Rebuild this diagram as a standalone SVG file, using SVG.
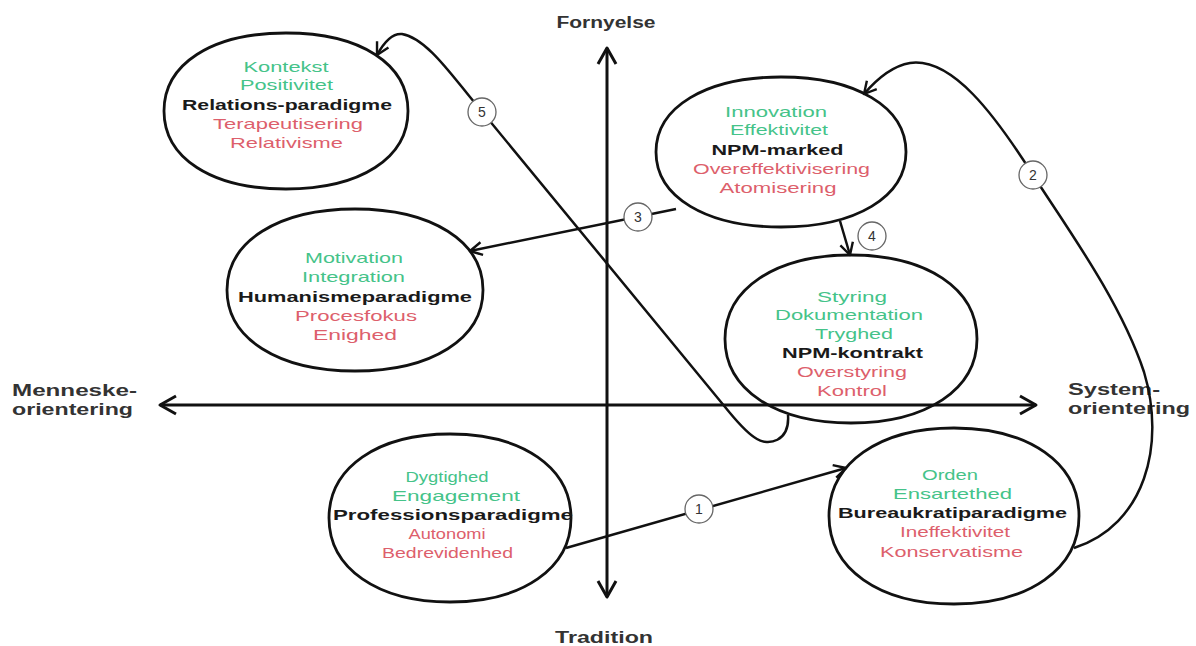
<svg xmlns="http://www.w3.org/2000/svg" width="1196" height="646" viewBox="0 0 1196 646">
  <defs>
    <style>
      .shape { fill: none; stroke: #111; stroke-width: 2.8; }
      .link { fill: none; stroke: #111; stroke-width: 2.5; }
      .axis { fill: none; stroke: #111; stroke-width: 3; }
      .t { font-family: "Liberation Sans", Arial, sans-serif; font-size: 15px; text-anchor: middle; }
      .pos { fill: #45c389; }
      .neg { fill: #dd5f6c; }
      .name { fill: #1a1a1a; font-weight: bold; }
      .axlabel { font-family: "Liberation Sans", Arial, sans-serif; font-size: 16px; font-weight: bold; fill: #333; }
      .badge circle { fill: #fff; stroke: #666; stroke-width: 1.3; }
      .badge text { font-family: "Liberation Sans", Arial, sans-serif; font-size: 14px; fill: #333; text-anchor: middle; }
    </style>
    <marker id="arrow" viewBox="0 0 16 16" refX="14" refY="8" markerWidth="16" markerHeight="16" markerUnits="userSpaceOnUse" orient="auto-start-reverse">
      <path d="M2,1.5 L14,8 L2,14.5" fill="none" stroke="#111" stroke-width="2.4" stroke-linejoin="round"/>
    </marker>
    <marker id="axisArrow" viewBox="0 0 22 22" refX="19" refY="11" markerWidth="22" markerHeight="22" markerUnits="userSpaceOnUse" orient="auto-start-reverse">
      <path d="M3,2 L19,11 L3,20" fill="none" stroke="#111" stroke-width="3" stroke-linejoin="round"/>
    </marker>
  </defs>

  <rect width="1196" height="646" fill="#fff"/>

  <!-- axes -->
  <g id="axes">
    <line class="axis" x1="607" y1="597" x2="607" y2="48" marker-start="url(#axisArrow)" marker-end="url(#axisArrow)"/>
    <line class="axis" x1="160" y1="405" x2="1036" y2="405" marker-start="url(#axisArrow)" marker-end="url(#axisArrow)"/>
    <text class="axlabel" x="606" y="28" text-anchor="middle" textLength="99" lengthAdjust="spacingAndGlyphs">Fornyelse</text>
    <text class="axlabel" x="604" y="643" text-anchor="middle" textLength="98" lengthAdjust="spacingAndGlyphs">Tradition</text>
    <text class="axlabel" x="12" y="396" textLength="125" lengthAdjust="spacingAndGlyphs">Menneske-</text>
    <text class="axlabel" x="12" y="415" textLength="121" lengthAdjust="spacingAndGlyphs">orientering</text>
    <text class="axlabel" x="1068" y="395" textLength="92" lengthAdjust="spacingAndGlyphs">System-</text>
    <text class="axlabel" x="1068" y="414" textLength="122" lengthAdjust="spacingAndGlyphs">orientering</text>
  </g>

  <!-- paradigm nodes -->
  <g id="relations">
    <path class="shape" d="M408,111 C408,157.8 361,189 286,189 C211,189 164,157.8 164,111 C164,64.2 211,33 286,33 C361,33 408,64.2 408,111Z"/>
    <text class="t pos" x="286" y="72" textLength="85" lengthAdjust="spacingAndGlyphs">Kontekst</text>
    <text class="t pos" x="286.5" y="90" textLength="93" lengthAdjust="spacingAndGlyphs">Positivitet</text>
    <text class="t name" x="287" y="110" textLength="210" lengthAdjust="spacingAndGlyphs">Relations-paradigme</text>
    <text class="t neg" x="288" y="129" textLength="150" lengthAdjust="spacingAndGlyphs">Terapeutisering</text>
    <text class="t neg" x="286.5" y="148" textLength="113" lengthAdjust="spacingAndGlyphs">Relativisme</text>
  </g>

  <g id="npm-marked">
    <path class="shape" d="M906,152 C906,197 856,227 781,227 C706,227 656,197 656,152 C656,107 706,77 781,77 C856,77 906,107 906,152Z"/>
    <text class="t pos" x="776" y="117" textLength="102" lengthAdjust="spacingAndGlyphs">Innovation</text>
    <text class="t pos" x="779" y="135" textLength="98" lengthAdjust="spacingAndGlyphs">Effektivitet</text>
    <text class="t name" x="777.5" y="155" textLength="132" lengthAdjust="spacingAndGlyphs">NPM-marked</text>
    <text class="t neg" x="781.5" y="174" textLength="177" lengthAdjust="spacingAndGlyphs">Overeffektivisering</text>
    <text class="t neg" x="778" y="193" textLength="117" lengthAdjust="spacingAndGlyphs">Atomisering</text>
  </g>

  <g id="humanisme">
    <path class="shape" d="M483,290 C483,338.6 431.8,371 355,371 C278.2,371 227,338.6 227,290 C227,241.4 278.2,209 355,209 C431.8,209 483,241.4 483,290Z"/>
    <text class="t pos" x="354" y="263" textLength="98" lengthAdjust="spacingAndGlyphs">Motivation</text>
    <text class="t pos" x="353.5" y="282" textLength="103" lengthAdjust="spacingAndGlyphs">Integration</text>
    <text class="t name" x="355" y="302" textLength="234" lengthAdjust="spacingAndGlyphs">Humanismeparadigme</text>
    <text class="t neg" x="356" y="321" textLength="122" lengthAdjust="spacingAndGlyphs">Procesfokus</text>
    <text class="t neg" x="355" y="340" textLength="84" lengthAdjust="spacingAndGlyphs">Enighed</text>
  </g>

  <g id="npm-kontrakt">
    <path class="shape" d="M977,339 C977,389.4 926.6,423 851,423 C775.4,423 725,389.4 725,339 C725,288.6 775.4,255 851,255 C926.6,255 977,288.6 977,339Z"/>
    <text class="t pos" x="852" y="302" textLength="70" lengthAdjust="spacingAndGlyphs">Styring</text>
    <text class="t pos" x="849" y="320" textLength="148" lengthAdjust="spacingAndGlyphs">Dokumentation</text>
    <text class="t pos" x="854" y="339" textLength="78" lengthAdjust="spacingAndGlyphs">Tryghed</text>
    <text class="t name" x="852.5" y="358" textLength="141" lengthAdjust="spacingAndGlyphs">NPM-kontrakt</text>
    <text class="t neg" x="852" y="377" textLength="110" lengthAdjust="spacingAndGlyphs">Overstyring</text>
    <text class="t neg" x="852" y="396" textLength="70" lengthAdjust="spacingAndGlyphs">Kontrol</text>
  </g>

  <g id="profession">
    <path class="shape" d="M571,518 C571,568.4 522.6,602 450,602 C377.4,602 329,568.4 329,518 C329,467.6 377.4,434 450,434 C522.6,434 571,467.6 571,518Z"/>
    <text class="t pos" x="447" y="482" textLength="83" lengthAdjust="spacingAndGlyphs">Dygtighed</text>
    <text class="t pos" x="456" y="501" textLength="128" lengthAdjust="spacingAndGlyphs">Engagement</text>
    <text class="t name" x="453" y="520" textLength="240" lengthAdjust="spacingAndGlyphs">Professionsparadigme</text>
    <text class="t neg" x="447" y="539" textLength="77" lengthAdjust="spacingAndGlyphs">Autonomi</text>
    <text class="t neg" x="447.5" y="558" textLength="131" lengthAdjust="spacingAndGlyphs">Bedrevidenhed</text>
  </g>

  <g id="bureaukrati">
    <path class="shape" d="M1079,516 C1079,568.8 1029,604 954,604 C879,604 829,568.8 829,516 C829,463.2 879,428 954,428 C1029,428 1079,463.2 1079,516Z"/>
    <text class="t pos" x="950" y="480" textLength="56" lengthAdjust="spacingAndGlyphs">Orden</text>
    <text class="t pos" x="952.5" y="499" textLength="119" lengthAdjust="spacingAndGlyphs">Ensartethed</text>
    <text class="t name" x="952.5" y="518" textLength="229" lengthAdjust="spacingAndGlyphs">Bureaukratiparadigme</text>
    <text class="t neg" x="955" y="537" textLength="110" lengthAdjust="spacingAndGlyphs">Ineffektivitet</text>
    <text class="t neg" x="951.5" y="557" textLength="143" lengthAdjust="spacingAndGlyphs">Konservatisme</text>
  </g>

  <!-- transitions between paradigms -->
  <g id="connectors">
    <path id="c1" class="link" d="M566,548 L846,468" marker-end="url(#arrow)"/>
    <path id="c2" class="link" d="M1074,548 C1145,525 1166,445 1144,372 C1120,300 1065,225 1033,175 C995,115 952,57 910,63 C892,66 876,80 864,94" marker-end="url(#arrow)"/>
    <path id="c3" class="link" d="M676,209 L470,251" marker-end="url(#arrow)"/>
    <path id="c4" class="link" d="M840,221 L850,255" marker-end="url(#arrow)"/>
    <path id="c5" class="link" d="M788,415 C790,442 768,446 757,439 C748,434 740,425 730,413 L470,97 C448,70 425,38 402,34 C391,33 383,44 377,55" marker-end="url(#arrow)"/>

    <g class="badge"><circle cx="699" cy="509" r="14"/><text x="699" y="514">1</text></g>
    <g class="badge"><circle cx="1033" cy="175" r="14"/><text x="1033" y="180">2</text></g>
    <g class="badge"><circle cx="638" cy="217" r="14"/><text x="638" y="222">3</text></g>
    <g class="badge"><circle cx="872" cy="236" r="14"/><text x="872" y="241">4</text></g>
    <g class="badge"><circle cx="482" cy="112" r="14"/><text x="482" y="117">5</text></g>
  </g>
</svg>
